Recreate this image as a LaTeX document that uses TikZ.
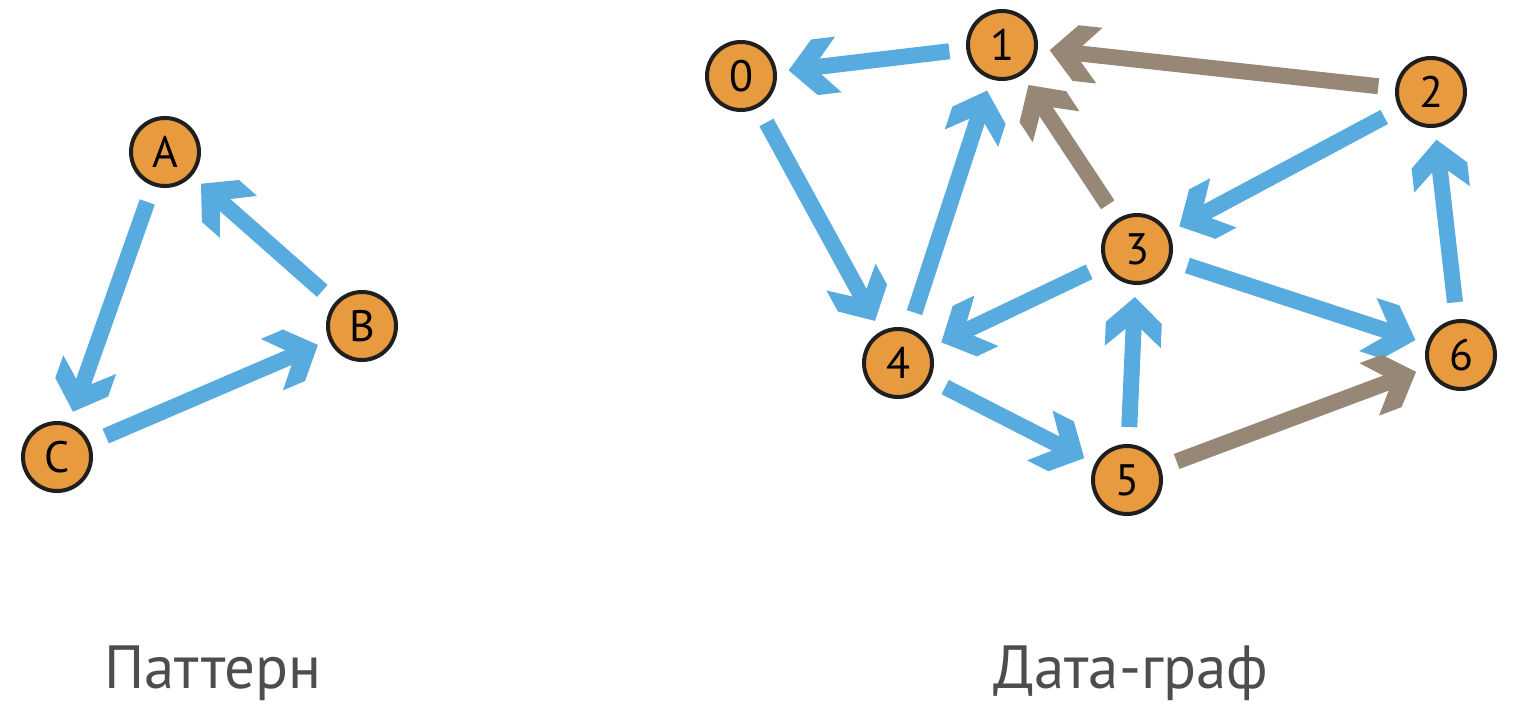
\documentclass[tikz,border=0pt]{standalone}
\usepackage{fontspec}
\setmainfont{PT Sans}
\usetikzlibrary{automata, positioning, arrows.meta}

\definecolor{edgeblue}{HTML}{58ABDF}
\definecolor{edgebrown}{HTML}{968776}
\definecolor{nodeorange}{HTML}{E89A3F}
\definecolor{captiongrey}{HTML}{4D4D4D}

% chevron head with flat barb ends
\pgfdeclarearrow{
        name = Chevron,
        parameters = {\the\pgfarrowlength,\the\pgfarrowwidth},
        setup code = {
                \pgfarrowssettipend{0pt}
                \pgfarrowssetlineend{-.5\pgfarrowlength}
                \pgfarrowssetbackend{-\pgfarrowlength}
                \pgfarrowssetvisualbackend{-.6\pgfarrowlength}
                \pgfarrowssavethe\pgfarrowlength
                \pgfarrowssavethe\pgfarrowwidth
        },
        drawing code = {
                \pgfpathmoveto{\pgfqpoint{0pt}{0pt}}
                \pgfpathlineto{\pgfqpoint{-.52\pgfarrowlength}{.5\pgfarrowwidth}}
                \pgfpathlineto{\pgfqpoint{-\pgfarrowlength}{.5\pgfarrowwidth}}
                \pgfpathlineto{\pgfqpoint{-.62\pgfarrowlength}{.12\pgfarrowwidth}}
                \pgfpathlineto{\pgfqpoint{-.62\pgfarrowlength}{-.12\pgfarrowwidth}}
                \pgfpathlineto{\pgfqpoint{-\pgfarrowlength}{-.5\pgfarrowwidth}}
                \pgfpathlineto{\pgfqpoint{-.52\pgfarrowlength}{-.5\pgfarrowwidth}}
                \pgfpathclose
                \pgfusepathqfill
        },
        defaults = {length=48pt, width=54pt}
}

\begin{document}
\begin{tikzpicture}[x=1pt,y=-1pt,shorten >=12pt,shorten <=17pt,
        every state/.style={draw=black!88, line width=4pt, fill=nodeorange,
                minimum size=68pt, inner sep=0pt, font=\fontsize{44}{44}\selectfont},
        head/.style={-{Chevron[length=50pt,width=56pt]}, line width=16pt},
        caption/.style={anchor=base, text=captiongrey, font=\fontsize{61}{61}\selectfont}]
        \useasboundingbox (0,0) rectangle (1526,722);
        % pattern
        \node[state] (a) at (165,152) {A};
        \node[state] (b) at (362,326) {B};
        \node[state] (c) at (57,457) {C};
        \draw[head, edgeblue]
                (a) edge (c)
                (b) edge (a)
                (c) edge (b);
        % data graph
        \node[state] (n0) at (741,76) {0};
        \node[state] (n1) at (1002,45) {1};
        \node[state] (n2) at (1431,92) {2};
        \node[state] (n3) at (1137,249) {3};
        \node[state] (n4) at (898,363) {4};
        \node[state] (n5) at (1127,480) {5};
        \node[state] (n6) at (1461,355) {6};
        \draw[head, edgeblue]
                (n1) edge (n0)
                (n0) edge (n4)
                (n4) edge (n1)
                (n2) edge (n3)
                (n3) edge (n4)
                (n3) edge (n6)
                (n4) edge (n5)
                (n5) edge (n3)
                (n6) edge (n2);
        \draw[head, edgebrown]
                (n2) edge (n1)
                (n3) edge (n1)
                (n5) edge (n6);
        \node[caption] (pattern) at (213,688) {Паттерн};
        \node[caption] (datagraph) at (1131,688) {Дата-граф};
\end{tikzpicture}
\end{document}
